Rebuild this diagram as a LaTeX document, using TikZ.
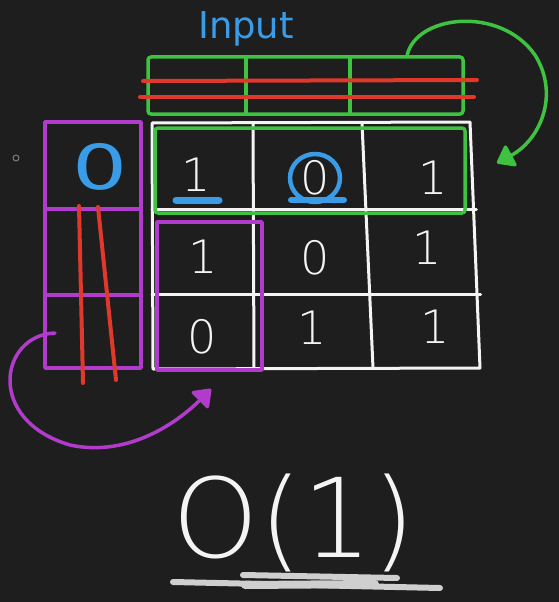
\documentclass[tikz,border=0pt]{standalone}
\usepackage{fontspec}
\setmainfont{DejaVu Sans}
\newfontfamily\penfont{DejaVu Sans ExtraLight}
\usetikzlibrary{arrows.meta}

\definecolor{board}{HTML}{1E1E1E}
\definecolor{chalk}{HTML}{F4F4F4}
\definecolor{pengreen}{HTML}{3FC23F}
\definecolor{penred}{HTML}{E0392B}
\definecolor{penpurple}{HTML}{B13CCB}
\definecolor{penblue}{HTML}{3A9BE6}
\definecolor{smudge}{HTML}{CFCFCF}

\begin{document}
\begin{tikzpicture}[
    x=1pt, y=-1pt,
    line cap=round, line join=round,
    gridline/.style={draw=chalk, line width=3pt},
    greenpen/.style={draw=pengreen, line width=3.5pt},
    redpen/.style={draw=penred, line width=4pt},
    purplepen/.style={draw=penpurple, line width=3.5pt},
    bluepen/.style={draw=penblue, line width=4.5pt},
    digit/.style={font=\penfont\fontsize{46}{46}\selectfont, text=chalk, inner sep=0pt},
    bigarrow/.style={-{Triangle[length=18pt,width=26pt,round]}},
    scribble/.style={draw=smudge, line width=6pt}
]

% Board
\fill[board] (0,0) rectangle (559,602);
\useasboundingbox (0,0) rectangle (559,602);

% Title
\node[font=\fontsize{37}{37}\selectfont, text=penblue, anchor=base] (title) at (246,38) {Input};

% First row copy (green), struck out in red
\draw[greenpen, rounded corners=3pt] (148,57) rectangle (463,114);
\foreach \x in {246,350} {
  \draw[greenpen] (\x,58) -- (\x,113);
}
\draw[redpen] (143,81) -- (477,80);
\draw[redpen] (140,97) -- (474,97);

% Matrix grid (white)
\draw[gridline] (152,123) -- (470,122) -- (480,368) -- (153,369) -- cycle;
\foreach \xa/\xb in {253/254, 362/373} {
  \draw[gridline] (\xa,123) -- (\xb,368);
}
\foreach \y in {209,294} {
  \draw[gridline] (152,\y) -- (\y/20+466,\y);
}

% Row 1 highlight
\draw[greenpen, rounded corners=3pt] (155,128) rectangle (465,213);

% First column copy (purple), struck out in red
\draw[purplepen] (45,122) rectangle (141,368);
\foreach \y in {209,295} {
  \draw[purplepen] (45,\y) -- (141,\y);
}
\draw[redpen] (79,206) -- (83,383);
\draw[redpen] (98,207) -- (116,380);
\node[font=\fontsize{62}{62}\selectfont, text=penblue, inner sep=0pt, xscale=1.4] (colzero) at (100,167) {0};

% Column 1 highlight
\draw[purplepen] (157,222) rectangle (262,370);

% Cell values
\foreach \name/\x/\y/\v in {c11/196/175/1, c12/315/178/0, c13/433/178/1,
                           c21/203/257/1, c22/315/258/0, c23/427/248/1,
                           c31/202/337/0, c32/312/328/1, c33/435/327/1} {
  \node[digit] (\name) at (\x,\y) {\v};
}

% Blue marks on row 1
\draw[bluepen, line width=7pt] (176,200) -- (219,200);
\draw[bluepen, line width=6pt] (291,200) -- (344,200);
\draw[bluepen] (c12) ellipse [x radius=25pt, y radius=24pt];

% Arrows
\coordinate (grn-from) at (407,56);
\coordinate (grn-to) at (497,163);
\draw[greenpen, bigarrow] (grn-from) .. controls (415,15) and (500,5) .. (535,55)
  .. controls (560,95) and (540,140) .. (grn-to);

\coordinate (pur-from) at (55,333);
\coordinate (pur-to) at (211,389);
\draw[purplepen, bigarrow] (pur-from) .. controls (0,335) and (-15,420) .. (70,445)
  .. controls (130,458) and (180,420) .. (pur-to);

% Result
\node[font=\penfont\fontsize{110}{110}\selectfont, text=chalk, anchor=base] (bigo) at (294,557) {O(1)};
\draw[scribble] (173,582) -- (440,588);
\draw[scribble] (243,575) -- (397,578);
\draw[scribble, line width=8pt] (245,585) -- (375,584);

% Cursor dot
\draw[gray, line width=1pt] (16,158) circle [radius=3pt];

\end{tikzpicture}
\end{document}
